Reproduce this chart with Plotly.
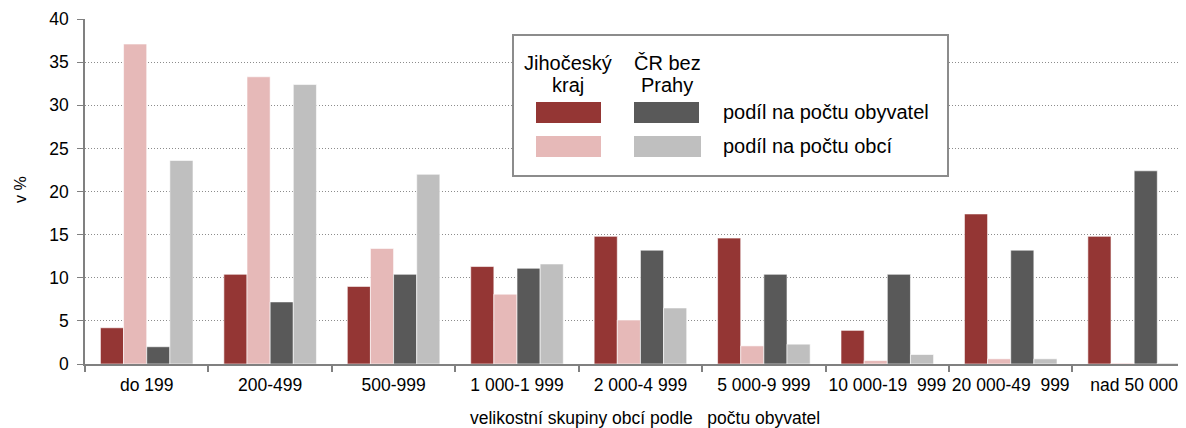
import plotly.graph_objects as go

categories = ["do 199", "200-499", "500-999", "1 000-1 999", "2 000-4 999",
              "5 000-9 999", "10 000-19\u00a0 999", "20 000-49\u00a0 999", "nad 50 000"]
jc_obyvatel = [4.2, 10.4, 9.0, 11.3, 14.8, 14.6, 3.9, 17.4, 14.8]
jc_obci = [37.1, 33.3, 13.4, 8.1, 5.1, 2.1, 0.4, 0.6, 0.1]
cr_obyvatel = [2.0, 7.2, 10.4, 11.1, 13.2, 10.4, 10.4, 13.2, 22.4]
cr_obci = [23.6, 32.4, 22.0, 11.6, 6.5, 2.3, 1.1, 0.6, 0.1]

series = [
    ("Jihočeský kraj – podíl na počtu obyvatel", jc_obyvatel, "#943634"),
    ("Jihočeský kraj – podíl na počtu obcí", jc_obci, "#E6B9B8"),
    ("ČR bez Prahy – podíl na počtu obyvatel", cr_obyvatel, "#595959"),
    ("ČR bez Prahy – podíl na počtu obcí", cr_obci, "#BFBFBF"),
]

FONT = "Liberation Sans, Arial, sans-serif"
fig = go.Figure()
for name, vals, col in series:
    fig.add_trace(go.Bar(x=categories, y=vals, name=name,
                         marker=dict(color=col, line=dict(color="rgba(255,255,255,0.6)", width=1))))

# page has an 8px body margin; compensate so the plot area lands where intended
OFF = 8
PAGE_W, PAGE_H = 1186, 428
L, R, T, B = 85, 1186, 19, 364   # plot area in page pixels
W, H = PAGE_W - OFF, PAGE_H - OFF

def px(x):
    return (x - L) / (R - L)

def py(y):
    return (B - y) / (B - T)

shapes = [
    dict(type="rect", xref="paper", yref="paper", x0=px(513), x1=px(948), y0=py(176), y1=py(35),
         line=dict(color="#8C8C8C", width=2), fillcolor="white", layer="above"),
    dict(type="rect", xref="paper", yref="paper", x0=px(536), x1=px(601), y0=py(123), y1=py(102),
         line=dict(width=0), fillcolor="#943634", layer="above"),
    dict(type="rect", xref="paper", yref="paper", x0=px(634), x1=px(699), y0=py(123), y1=py(102),
         line=dict(width=0), fillcolor="#595959", layer="above"),
    dict(type="rect", xref="paper", yref="paper", x0=px(536), x1=px(601), y0=py(157), y1=py(136),
         line=dict(width=0), fillcolor="#E6B9B8", layer="above"),
    dict(type="rect", xref="paper", yref="paper", x0=px(634), x1=px(701), y0=py(157), y1=py(136),
         line=dict(width=0), fillcolor="#BFBFBF", layer="above"),
]

def ann(text, x, y, size=20, xanchor="center", angle=0):
    return dict(text=text, x=px(x), y=py(y), xref="paper", yref="paper", xanchor=xanchor,
                yanchor="middle", showarrow=False, textangle=angle,
                font=dict(size=size, family=FONT, color="#000"))

annotations = [
    ann("Jihočeský", 568, 63),
    ann("kraj", 568, 85),
    ann("ČR bez", 667, 63),
    ann("Prahy", 667, 85),
    ann("podíl na počtu obyvatel", 721, 112, xanchor="left"),
    ann("podíl na počtu obcí", 721, 146, xanchor="left"),
    ann("velikostní skupiny obcí podle\u00a0\u00a0 počtu obyvatel", 645, 418, size=17.5),
    ann("v %", 20, 190, size=16, angle=-90),
]

fig.update_layout(
    width=W, height=H,
    margin=dict(l=L - OFF, r=PAGE_W - R, t=T - OFF, b=PAGE_H - B),
    paper_bgcolor="white", plot_bgcolor="white",
    barmode="group", bargap=0.25, bargroupgap=0,
    showlegend=False,
    font=dict(family=FONT, size=17.5, color="#000"),
    shapes=shapes, annotations=annotations,
    xaxis=dict(range=[-0.5, 8.42], tickson="boundaries", ticks="outside", ticklen=6,
               tickcolor="#808080", tickwidth=2, showline=True, linecolor="#808080", linewidth=2,
               showgrid=False, tickfont=dict(size=17.5), tickangle=0, automargin=False,
               ticklabelstandoff=4),
    yaxis=dict(range=[0, 40], dtick=5, ticks="outside", ticklen=6, tickcolor="#808080", tickwidth=1,
               showline=True, linecolor="#808080", linewidth=2, showgrid=True,
               gridcolor="#8C8C8C", griddash="1px,2px", gridwidth=1, zeroline=False,
               tickfont=dict(size=17.5), automargin=False, ticksuffix="\u00a0"),
)

fig.write_html("out.html")
